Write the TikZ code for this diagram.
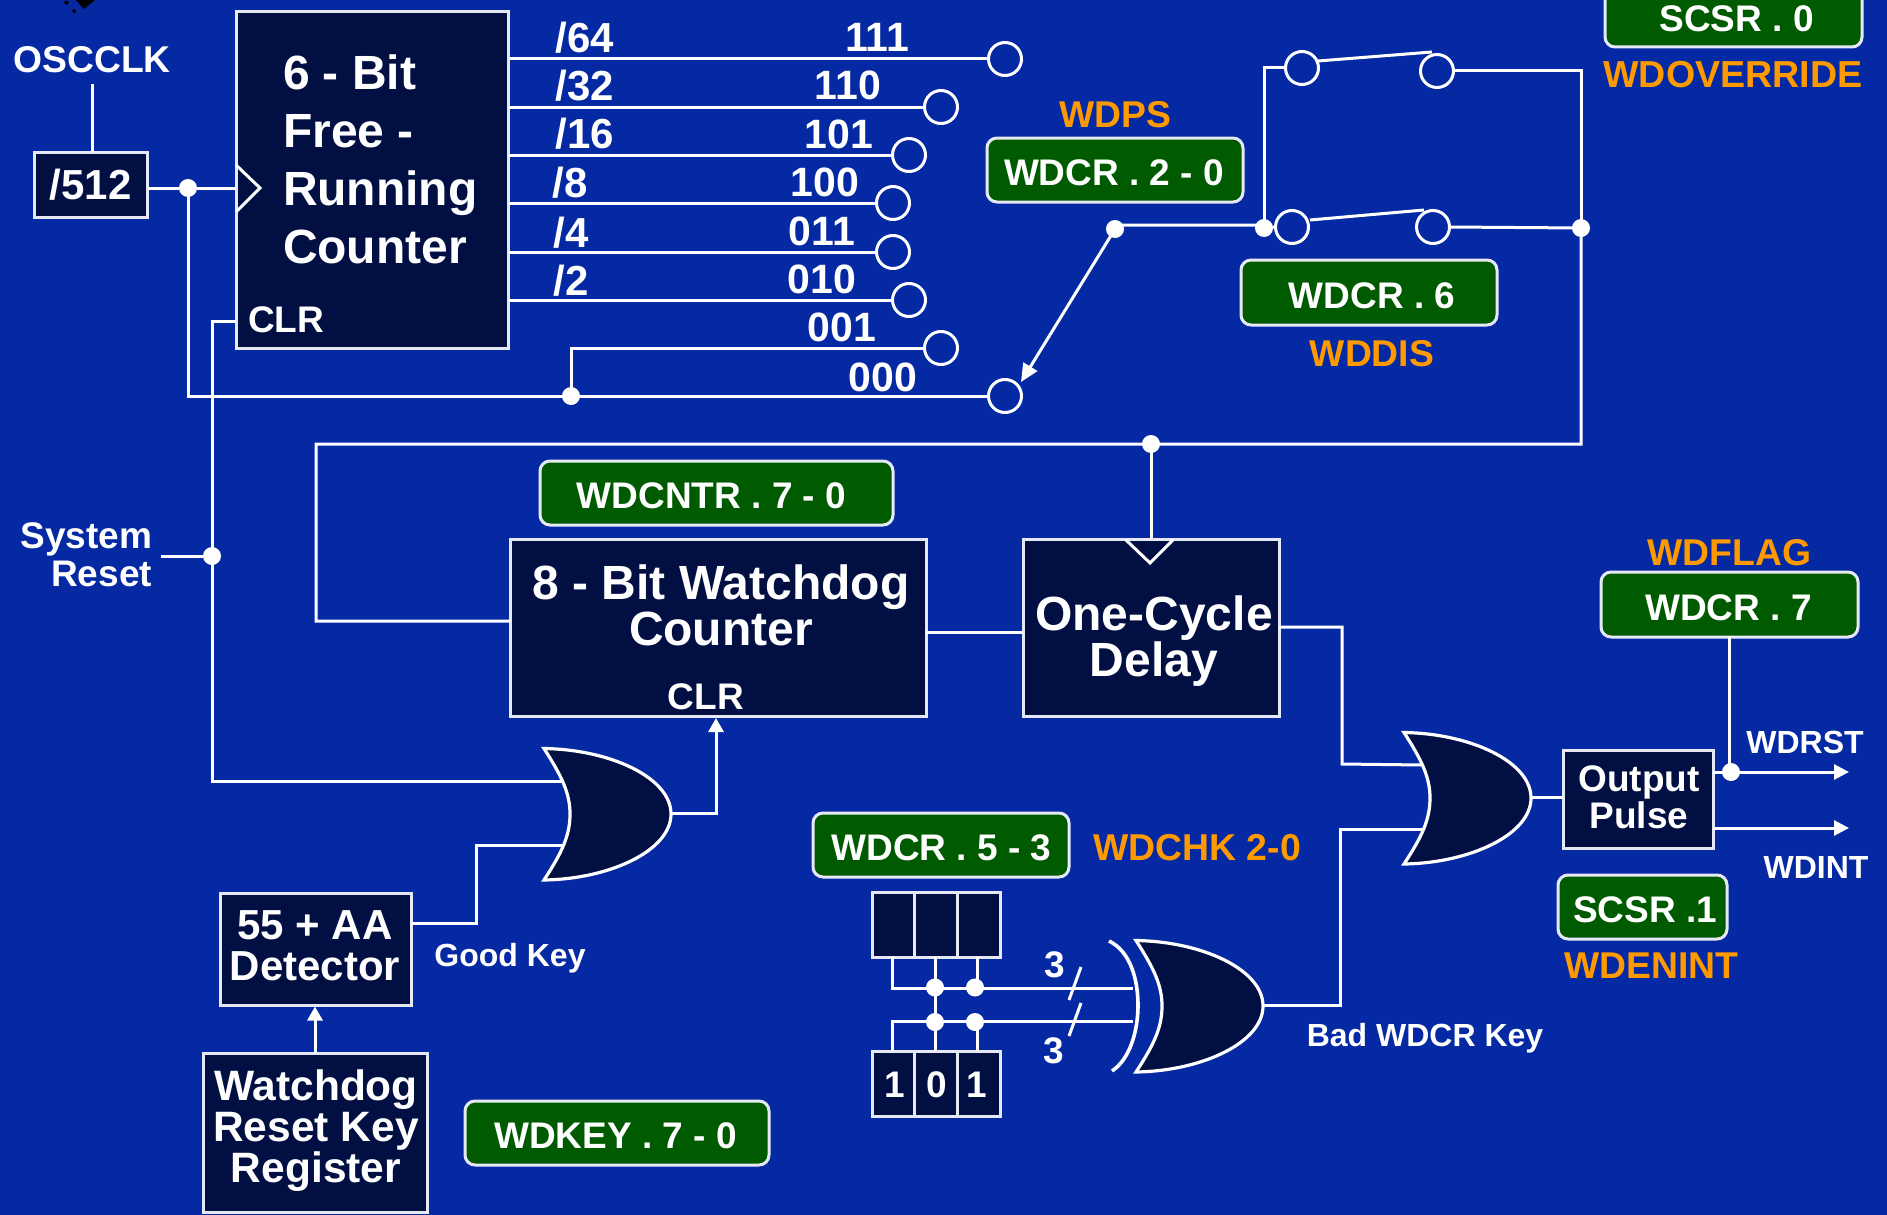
\documentclass[tikz,border=0pt]{standalone}
\usepackage{fontspec}
\setmainfont{Liberation Sans}
\usetikzlibrary{arrows.meta,calc}
\definecolor{bgblue}{HTML}{0429A2}
\definecolor{darkbox}{HTML}{020F42}
\definecolor{greenbox}{HTML}{005A00}
\definecolor{orangetxt}{HTML}{FF9900}
\definecolor{edge}{HTML}{E6E9F5}
\newcommand\fz[2]{\fontsize{#1}{#2}\selectfont\bfseries}
\newcommand\bx[6]{\node[#1,minimum width={#4-#2},minimum height={#5-#3}] (#6) at ({(#2+#4)/2},{(#3+#5)/2}) {};}
\newcommand\gbx[6]{\node[greenb,minimum width={#3-#1},minimum height={#4-#2}] (#5) at ({(#1+#3)/2},{(#2+#4)/2}) {#6};}
\newcommand\sh[1]{\hspace*{#1pt}}
\tikzset{
  x=1pt,y=-1pt,
  wire/.style={draw=white,line width=3pt,line cap=butt,line join=miter},
  darkb/.style={rectangle,draw=edge,fill=darkbox,line width=3pt,inner sep=0pt,outer sep=0pt},
  greenb/.style={rectangle,rounded corners=10pt,draw=edge,fill=greenbox,line width=3pt,inner sep=0pt,outer sep=0pt,text=white,font=\fz{37}{37},text height=31.5pt,text depth=0pt},
  lab/.style={text=white,font=\fz{#1}{#1},inner sep=0pt,outer sep=0pt,text height={0.716*#1},text depth=0pt},
  olab/.style={lab=#1,text=orangetxt},
  blk/.style 2 args={text=white,font=\fz{#1}{#2},inner sep=0pt,outer sep=0pt},
  dotn/.style={circle,fill=white,minimum size=18pt,inner sep=0pt,outer sep=0pt},
  pin/.style={circle,draw=white,line width=3pt,minimum size=33pt,inner sep=0pt,outer sep=0pt},
  gatebody/.style={draw=white,fill=darkbox,line width=3.2pt,line join=miter},
  tipa/.style={-{Triangle[length=15pt,width=15pt]}},
  orgate/.pic={
    \draw[gatebody] (0,0) .. controls (66,1) and (127,29) .. (127,65.5) .. controls (127,102) and (66,130.5) .. (0,131.5) .. controls (18,104) and (26,87) .. (26,65.5) .. controls (26,45) and (18,28) .. (0,0) -- cycle;
    \coordinate (-in1) at (18,32.5);
    \coordinate (-in2) at (18,96.5);
    \coordinate (-out) at (127,64.5);
  },
  xorgate/.pic={
    \draw[gatebody] (0,0) .. controls (66,1) and (127,29) .. (127,65.5) .. controls (127,102) and (66,130.5) .. (0,131.5) .. controls (18,104) and (26,87) .. (26,65.5) .. controls (26,45) and (18,28) .. (0,0) -- cycle;
    \draw[wire,line width=3.6pt] (-27,0.5) .. controls (-6,10.5) and (2,38.5) .. (2,64.5) .. controls (2,90.5) and (-6,118.5) .. (-24,130.5);
    \coordinate (-in1) at (-3,47.5);
    \coordinate (-in2) at (-3,80.5);
    \coordinate (-out) at (127,64.5);
  },
}
\begin{document}
\begin{tikzpicture}
\useasboundingbox (0,0) rectangle (1887,1215);
\clip (0,0) rectangle (1887,1215);
\fill[bgblue] (0,0) rectangle (1887,1215);
% corner fragment
\fill[black] (76,0) -- (95,0) -- (84,9) -- cycle;
\fill[black] (64,2) -- (67,0.5) -- (69,3) -- (66,5) -- cycle;
\fill[black] (72,10) -- (75,9) -- (76,12) -- (74,13.5) -- cycle;

% pins
\node[pin] (c64) at (1005,59) {};
\node[pin] (c32) at (941,107) {};
\node[pin] (c16) at (909,155) {};
\node[pin] (c8) at (893,203) {};
\node[pin] (c4) at (893,252) {};
\node[pin] (c2) at (909,300) {};
\node[pin] (c001) at (941,348) {};
\node[pin] (c000) at (1005,396) {};
\node[pin] (s1l) at (1302,68) {};
\node[pin] (s1r) at (1437,71) {};
\node[pin] (s2l) at (1292,227) {};
\node[pin] (s2r) at (1433,227) {};

% dots
\node[dotn] (dclk) at (188,188) {};
\node[dotn] (dzero) at (571,396) {};
\node[dotn] (dsys) at (212,556) {};
\node[dotn] (dtop) at (1151,444) {};
\node[dotn] (dsel) at (1115,229) {};
\node[dotn] (dsw) at (1264,228) {};
\node[dotn] (dr) at (1581,228) {};
\node[dotn] (dout) at (1731,772) {};
\node[dotn] (ta) at (935,987.5) {};
\node[dotn] (tb) at (975,987.5) {};
\node[dotn] (ba) at (935,1022) {};
\node[dotn] (bb) at (975,1022) {};

% boxes
\bx{darkb}{34}{152}{147.5}{217}{div}
\bx{darkb}{236}{12}{508.5}{348}{cnt}
\bx{darkb}{510}{539}{926}{716}{wd}
\bx{darkb}{1023}{539}{1279}{716}{cyc}
\bx{darkb}{220}{893}{411}{1005}{det}
\bx{darkb}{203}{1053}{427}{1212}{reg}
\bx{darkb}{1563}{750}{1713}{848}{pul}
\bx{darkb}{872}{892}{914}{957}{ra}
\bx{darkb}{914}{892}{957}{957}{rb}
\bx{darkb}{957}{892}{1000.5}{957}{rc}
\bx{darkb}{872}{1051}{914}{1116}{ka}
\bx{darkb}{914}{1051}{957}{1116}{kb}
\bx{darkb}{957}{1051}{1000.5}{1116}{kc}

% gates
\pic (g1) at (544,748.5) {orgate};
\pic (g2) at (1404,732.5) {orgate};
\pic (gx) at (1136,940.5) {xorgate};

% green boxes
\gbx{987}{138}{1243}{202}{wdps}{\sh{-2}WDCR . 2 - 0}
\gbx{1605}{-15}{1862}{47}{scs0}{\sh{6}SCSR . 0}
\gbx{1241}{260}{1497}{325}{wcr6}{\sh{6}WDCR . 6}
\gbx{540}{461}{893}{525}{wcnt}{WDCNTR . 7 - 0\sh{10}}
\gbx{1601}{572}{1858}{637}{wcr7}{WDCR . 7\sh{2}}
\gbx{813}{813}{1069}{877}{wcr5}{\sh{1}WDCR . 5 - 3}
\gbx{465}{1101}{769}{1165}{wkey}{WDKEY . 7 - 0\sh{3}}
\gbx{1558}{875}{1727}{939}{scs1}{\sh{5}SCSR .1}

% labels
\node[lab=37.3] (osc) at (92,59) {OSCCLK};
\node[lab=42] at (div.center) {/512};
\node[blk={48}{58},anchor=north west,align=left] (cntt) at (283,54.5) {6 - Bit\\Free -\\Running\\Counter};
\node[lab=37,anchor=west] (clrc) at (248,319) {CLR};
\node[lab=42] (t64) at (585,37) {/64};
\node[lab=42] (t32) at (585,85) {/32};
\node[lab=42] (t16) at (585,133) {/16};
\node[lab=42] (t8) at (570,182) {/8};
\node[lab=42] (t4) at (571,232) {/4};
\node[lab=42] (t2) at (571,280) {/2};
\node[lab=41] (n111) at (877,37) {111};
\node[lab=41] (n110) at (848,85) {110};
\node[lab=41] (n101) at (839,134) {101};
\node[lab=41] (n100) at (825,182) {100};
\node[lab=41] (n011) at (822,231) {011};
\node[lab=41] (n010) at (822,279) {010};
\node[lab=41] (n001) at (842,327) {001};
\node[lab=41] (n000) at (883,377) {000};
\node[olab=37.3] (o1) at (1115,114) {WDPS};
\node[olab=37.6] (o2) at (1733,74) {WDOVERRIDE};
\node[olab=37.3] (o3) at (1372,353) {WDDIS};
\node[olab=37.3] (o4) at (1729.5,552) {WDFLAG};
\node[olab=37.4] (o5) at (1197,847) {WDCHK 2-0};
\node[olab=37.3] (o6) at (1651.5,965) {WDENINT};
\node[blk={37}{38},anchor=north east,align=right] (sys) at (152,523) {System\\Reset};
\node[blk={48}{46},anchor=north,align=center] (wdt) at (721,564.5) {8 - Bit Watchdog\\Counter};
\node[lab=37] (clrw) at (706,696) {CLR};
\node[blk={48}{46},anchor=north,align=center] (cyct) at (1154,595.5) {One-Cycle\\Delay};
\node[blk={42}{41},anchor=north,align=center] (dett) at (315,911) {55 + AA\\Detector};
\node[blk={42.5}{41},anchor=north,align=center] (regt) at (316,1070) {Watchdog\\Reset Key\\Register};
\node[blk={37}{37},anchor=north,align=center] (pult) at (1639,766) {Output\\Pulse};
\node[lab=32] (gk) at (510,955) {Good Key};
\node[lab=32] (bk) at (1425,1035) {Bad WDCR Key};
\node[lab=32] (wr) at (1805,742) {WDRST};
\node[lab=32] (wi) at (1816,867) {WDINT};
\node[lab=37] (d1) at (895,1084) {1};
\node[lab=37] (d0) at (937,1084) {0};
\node[lab=37] (d2) at (977,1084) {1};
\node[lab=37] (n3a) at (1055,964) {3};
\node[lab=37] (n3b) at (1054,1050) {3};

% named free coordinates
\coordinate (oscend) at ([yshift=-12pt]osc.south);
\coordinate (clrin) at (236,321);
\coordinate (sysout) at (161,556);
\coordinate (wdclr) at (716,718);
\coordinate (detout) at (411,923);
\coordinate (k1) at (476,923);
\coordinate (k2) at (1581,444);
\coordinate (k3) at (316,444);
\coordinate (k4) at (316,621);
\coordinate (k5) at (1023,632);
\coordinate (k6) at (1279,627);
\coordinate (k7) at (1342,627);
\coordinate (k8) at (1342,764);
\coordinate (k9) at (1340,1005);
\coordinate (tipsel) at (1021,382);
\coordinate (selw) at (1115,225);
\coordinate (tl) at (892,988);
\coordinate (bl) at (892,1021);
\coordinate (pa) at (1849,772);
\coordinate (pb) at (1849,828);
\coordinate (pbs) at (1713,828);
\coordinate (ls1a) at (1318,61);
\coordinate (ls1b) at (1432,52);
\coordinate (ls2a) at (1310,220);
\coordinate (ls2b) at (1424,210);
\coordinate (sa1) at (1069,1000);
\coordinate (sa2) at (1081,967);
\coordinate (sb1) at (1069,1036);
\coordinate (sb2) at (1081,1003);
\coordinate (rtop) at (977,957);
\coordinate (rtopb) at (977,988);
\coordinate (rbot) at (977,1051);
\coordinate (rbotb) at (977,1021);

% connectors
\draw[wire] (oscend) -- (oscend |- div.north);
\draw[wire] (div.east |- dclk) -- (dclk) -- (dclk -| cnt.west);
\draw[wire] (dclk.center) |- (c000.west);
\draw[wire] (c001.west) -| (dzero.center);
\foreach \p in {c64,c32,c16,c8,c4,c2} \draw[wire] (\p.west -| cnt.east) -- (\p.west);
\draw[wire] (clrin) -| (dsys.center) |- (g1-in1);
\draw[wire] (sysout) -- (dsys);
\draw[wire,tipa,-{Triangle[length=14pt,width=15pt]}] (g1-out) -| (wdclr);
\draw[wire] (detout) -- (k1) |- (g1-in2);
\draw[wire,-{Triangle[length=14pt,width=15pt]}] (reg.north) -- ([yshift=-1.5pt]reg.north |- det.south);
\draw[wire] (s1l.west) -| (dsw.center);
\draw[wire] (selw) -- (selw -| dsw) (dsw.center) -- (s2l.west);
\draw[wire] (s1r.east) -| (dr.center);
\draw[wire] (s2r.east) -- (dr.center) -- (k2) -- (k3) -- (k4) -- (k4 -| wd.west);
\draw[wire] (dtop.center) -- (dtop |- cyc.north);
\draw[wire] (k5 -| wd.east) -- (k5);
\draw[wire,-{Triangle[length=18pt,width=16pt]}] (dsel.center) -- (tipsel);
\draw[wire] (ls1a) -- (ls1b);
\draw[wire] (ls2a) -- (ls2b);
\draw[wire] (k6) -- (k7) -- (k8) -- (g2-in1);
\draw[wire] (gx-out) -- (k9) |- (g2-in2);
\draw[wire] (g2-out) -- (g2-out -| pul.west);
\draw[wire] (wcr7.south) -- (wcr7.south |- dout);
\draw[wire,tipa] (dout -| pul.east) -- (pa);
\draw[wire,tipa] (pbs) -- (pb);
\draw[wire] (tl |- ra.south) -- (tl) -- (gx-in1);
\draw[wire] (ba |- rb.south) -- (ba.center);
\draw[wire] (rtop) -- (rtopb);
\draw[wire] (bl |- ka.north) -- (bl) -- (gx-in2);
\draw[wire] (ba |- kb.north) -- (ba.center);
\draw[wire] (rbot) -- (rbotb);
\draw[wire] (sa1) -- (sa2);
\draw[wire] (sb1) -- (sb2);

% clock triangles
\draw[wire,line join=miter] (236,165) -- (260,188) -- (236,212);
\draw[wire] (1126,540) -- (1150,563) -- (1173,540);
\end{tikzpicture}
\end{document}
